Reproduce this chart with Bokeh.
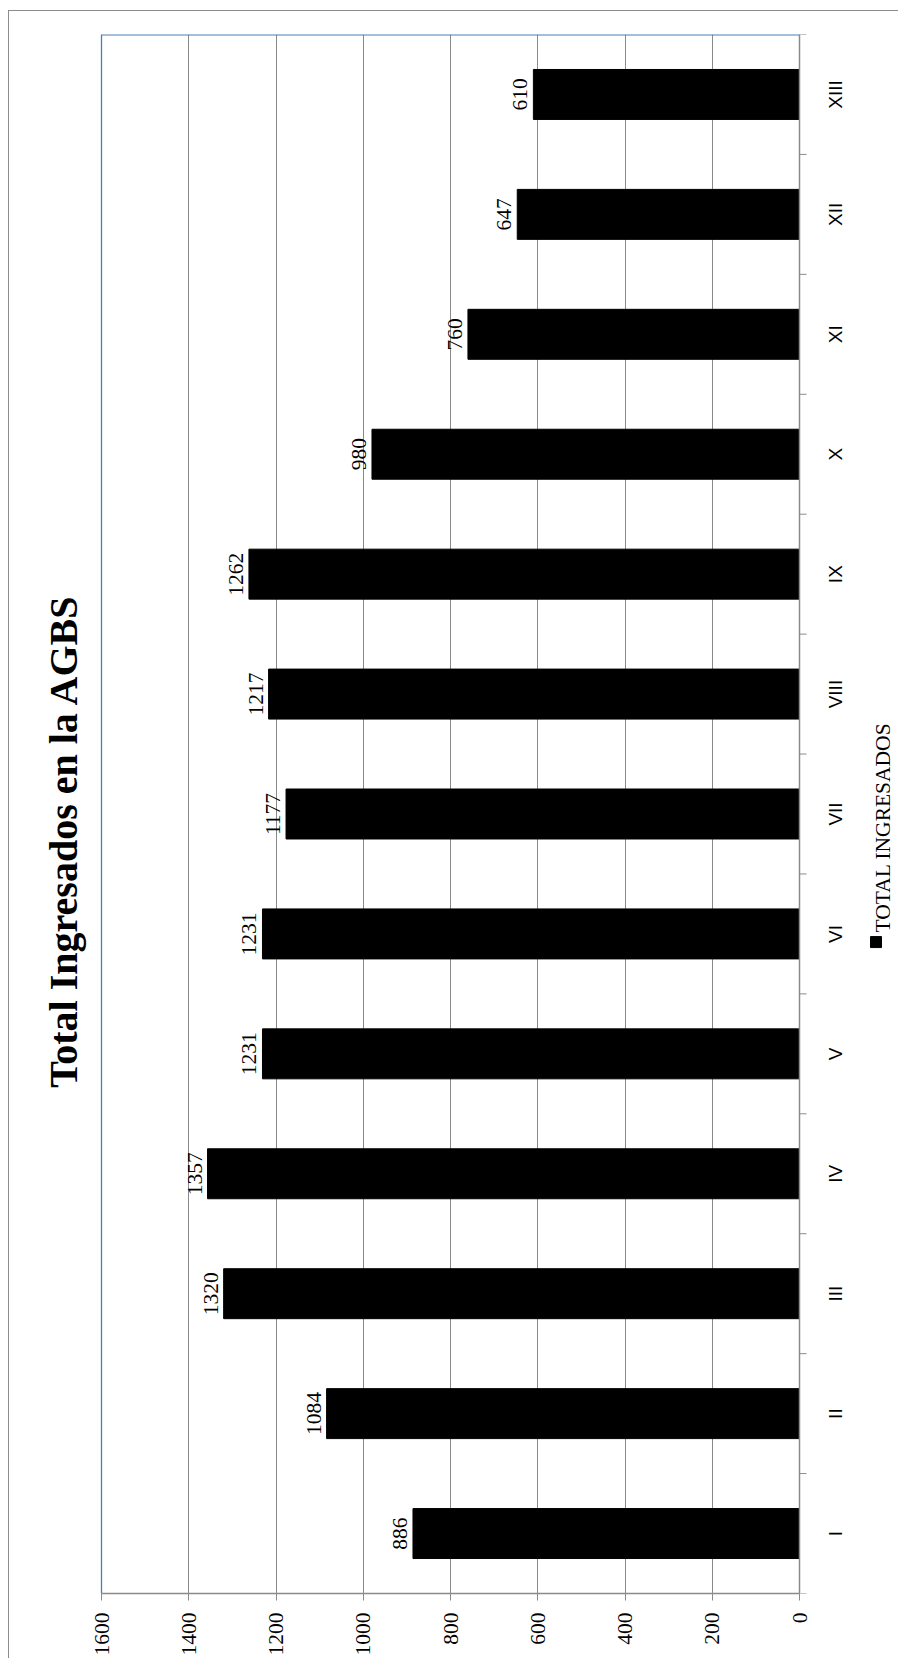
from math import pi
from bokeh.plotting import figure
from bokeh.models import Range1d, FixedTicker, InlineStyleSheet
from bokeh.core.properties import value
from bokeh.embed import file_html
from bokeh.resources import INLINE

# ---- data ----
categories = ["I", "II", "III", "IV", "V", "VI", "VII", "VIII", "IX", "X", "XI", "XII", "XIII"]
totals = [886, 1084, 1320, 1357, 1231, 1231, 1177, 1217, 1262, 980, 760, 647, 610]
value_ticks = [0, 200, 400, 600, 800, 1000, 1200, 1400, 1600]
series_name = "TOTAL INGRESADOS"
title_text = "Total Ingresados en la AGBS"

positions = [i + 1 for i in range(len(categories))]
boundaries = [p - 0.5 for p in positions] + [positions[-1] + 0.5]

GRAY = "#8a8a8a"
BLUE = "#4a7ebb"
SERIF = "Liberation Serif"
SANS = "Liberation Sans"

# ---- layout (pixels) ----
PLOT_W = 698            # width of the value scale 0..1600
PAD_L = 91              # frame space left of the 1600 line (title)
PAD_R = 91              # frame space right of the 0 line (category labels + legend)
FRAME_H = 1559
TOP, BOTTOM, LEFT, RIGHT = 34, 65, 10, 8

vmin, vmax = value_ticks[0], value_ticks[-1]
upp = (vmax - vmin) / PLOT_W   # value units per pixel

p = figure(
    frame_width=PAD_L + PLOT_W + PAD_R, frame_height=FRAME_H,
    min_border_left=LEFT, min_border_right=RIGHT, min_border_top=TOP, min_border_bottom=BOTTOM,
    x_range=Range1d(vmax + PAD_L * upp, vmin - PAD_R * upp),
    y_range=Range1d(boundaries[0], boundaries[-1]),
    y_axis_location=None,
    output_backend="svg", toolbar_location=None,
)

p.background_fill_color = "white"
p.border_fill_color = "white"
p.outline_line_color = None

# grid (value lines)
p.xgrid.ticker = FixedTicker(ticks=value_ticks)
p.xgrid.grid_line_color = GRAY
p.xgrid.grid_line_width = 1
p.ygrid.grid_line_color = None

# plot-area border (blue, top and left)
p.segment(x0=[vmax], y0=[boundaries[-1]], x1=[vmin], y1=[boundaries[-1]],
          line_color=BLUE, line_width=2.2)
p.segment(x0=[vmax], y0=[boundaries[0]], x1=[vmax], y1=[boundaries[-1]],
          line_color=BLUE, line_width=1.3)

# bars
p.hbar(y=positions, right=totals, left=vmin, height=0.4167,
       fill_color="black", line_color="black")

# data labels
p.text(x=totals, y=positions, text=[str(v) for v in totals], angle=pi / 2,
       text_align="center", text_baseline="alphabetic", x_offset=-13,
       text_font=value(SERIF), text_font_size="21.5px", text_color="black")

# value axis (below), limited to the value scale
xa = p.xaxis[0]
xa.bounds = (vmin, vmax)
xa.ticker = FixedTicker(ticks=value_ticks)
xa.major_label_orientation = pi / 2
xa.major_label_text_font = SERIF
xa.major_label_text_font_size = "21.5px"
xa.major_label_text_color = "black"
xa.major_label_standoff = 12
xa.major_tick_in = 0
xa.major_tick_out = 7
xa.major_tick_line_color = GRAY
xa.minor_tick_line_color = None
xa.axis_line_color = GRAY
xa.axis_line_width = 1.5

# category axis: line at value 0, tick marks between categories, labels
p.segment(x0=[vmin], y0=[boundaries[0]], x1=[vmin], y1=[boundaries[-1]],
          line_color=GRAY, line_width=1.5)
p.segment(x0=[vmin] * len(boundaries), y0=boundaries,
          x1=[vmin - 7 * upp] * len(boundaries), y1=boundaries,
          line_color=GRAY, line_width=1)
p.text(x=[vmin] * len(categories), y=positions, text=categories, angle=pi / 2,
       x_offset=36, text_align="center", text_baseline="alphabetic",
       text_font=value(SANS), text_font_size="19px", text_color="black")

# title (rotated, left of the plot area)
title_y = 6.775
p.text(x=[vmax], y=[title_y], text=[title_text], angle=pi / 2,
       x_offset=-38, text_align="center", text_baseline="alphabetic",
       text_font=value(SERIF), text_font_size="40px", text_font_style="bold",
       text_color="black")

# legend (rotated like the rest of the chart)
legend_text_y = 6.887
legend_key_y = 5.932
p.text(x=[vmin], y=[legend_text_y], text=[series_name], angle=pi / 2,
       x_offset=83, text_align="center", text_baseline="alphabetic",
       text_font=value(SERIF), text_font_size="21.5px", text_color="black")
p.scatter(x=[vmin - 76.5 * upp], y=[legend_key_y], marker="square", size=11,
          fill_color="black", line_color="black")

p.stylesheets = [InlineStyleSheet(css=(
    ":host { position: relative; }"
    ":host::after { content: ''; position: absolute; left: 8px; top: 10px; right: 0; bottom: 0;"
    " border-left: 1px solid #8c8c8c; border-top: 1px solid #8c8c8c; pointer-events: none; z-index: 5; }"
))]

open("out.html", "w").write(file_html(p, INLINE))
